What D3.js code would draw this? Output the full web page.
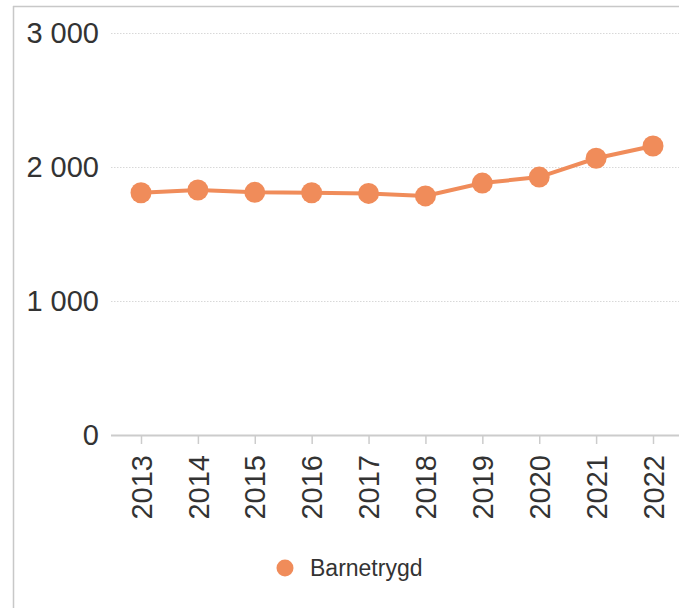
<!DOCTYPE html>
<html>
<head>
<meta charset="utf-8">
<script src="https://cdn.jsdelivr.net/npm/d3@7"></script>
<style>
  body { margin: 0; background: #fff; }
  svg { display: block; font-family: "Liberation Sans", Arial, sans-serif; }
</style>
</head>
<body>
<svg id="chart" width="679" height="608"></svg>
<script>
// data
var years = ["2013", "2014", "2015", "2016", "2017", "2018", "2019", "2020", "2021", "2022"];
var values = [1808, 1828, 1811, 1808, 1803, 1784, 1880, 1925, 2065, 2157];
var yTicks = [0, 1000, 2000, 3000];
var seriesName = "Barnetrygd";

var color = "#f08c5a";
var svg = d3.select("#chart");

var plotLeft = 111, plotRight = 679, plotTop = 33, plotBottom = 435;

var xScale = d3.scalePoint().domain(years).range([141, 653]);
var yScale = d3.scaleLinear().domain([0, 3000]).range([plotBottom, plotTop]);

//frame lines on the left and top
svg.append("line").attr("x1", 13.5).attr("x2", 13.5).attr("y1", 6).attr("y2", 608)
    .style("stroke", "#c8c8c8").style("stroke-width", 1.5);
svg.append("line").attr("x1", 13).attr("x2", 679).attr("y1", 6.5).attr("y2", 6.5)
    .style("stroke", "#c8c8c8").style("stroke-width", 1.5);

//dotted gridlines
svg.selectAll(".grid").data(yTicks.filter(function(d){ return d > 0; })).enter()
    .append("line").attr("class", "grid")
    .attr("x1", plotLeft).attr("x2", plotRight)
    .attr("y1", function(d){ return yScale(d) + 0.5; })
    .attr("y2", function(d){ return yScale(d) + 0.5; })
    .style("stroke", "#d8d8d8").style("stroke-dasharray", "1.5,1.5");

//y axis labels
var fmt = function(d){ return d3.format(",")(d).replace(/,/g, " "); };
var yAxis = d3.axisLeft(yScale).tickValues(yTicks).tickSize(0).tickPadding(12).tickFormat(fmt);
var yg = svg.append("g").attr("transform", "translate(" + plotLeft + ",0)").call(yAxis);
yg.select(".domain").remove();
yg.selectAll("text").style("font-size", "29px").style("fill", "#333")
    .attr("font-family", null);

//x axis
var xAxis = d3.axisBottom(xScale).tickSize(9).tickPadding(0);
var xg = svg.append("g").attr("transform", "translate(0," + plotBottom + ")").call(xAxis);
xg.select(".domain").attr("d", "M" + plotLeft + ",0.5H" + plotRight).style("stroke", "#ccc").style("stroke-width", 2);
xg.selectAll(".tick line").style("stroke", "#ccc").style("stroke-width", 1.5);
xg.selectAll("text")
    .attr("font-family", null)
    .style("font-size", "29px").style("fill", "#333")
    .style("text-anchor", "end")
    .attr("transform", "rotate(-90)")
    .attr("x", -20).attr("y", 0).attr("dy", "0.35em");

//the line and markers
var line = d3.line()
    .x(function(d, i){ return xScale(years[i]); })
    .y(function(d){ return yScale(d); });

svg.append("path").datum(values)
    .attr("d", line)
    .style("fill", "none").style("stroke", color).style("stroke-width", 4);

svg.selectAll(".dot").data(values).enter()
    .append("circle").attr("class", "dot")
    .attr("cx", function(d, i){ return xScale(years[i]); })
    .attr("cy", function(d){ return yScale(d); })
    .attr("r", 10.5)
    .style("fill", color);

//legend
var legend = svg.append("g").attr("transform", "translate(285,568)");
legend.append("circle").attr("r", 8.5).style("fill", color);
legend.append("text").attr("x", 25).attr("dy", "0.35em")
    .style("font-size", "23px").style("fill", "#333").text(seriesName);
</script>
</body>
</html>
